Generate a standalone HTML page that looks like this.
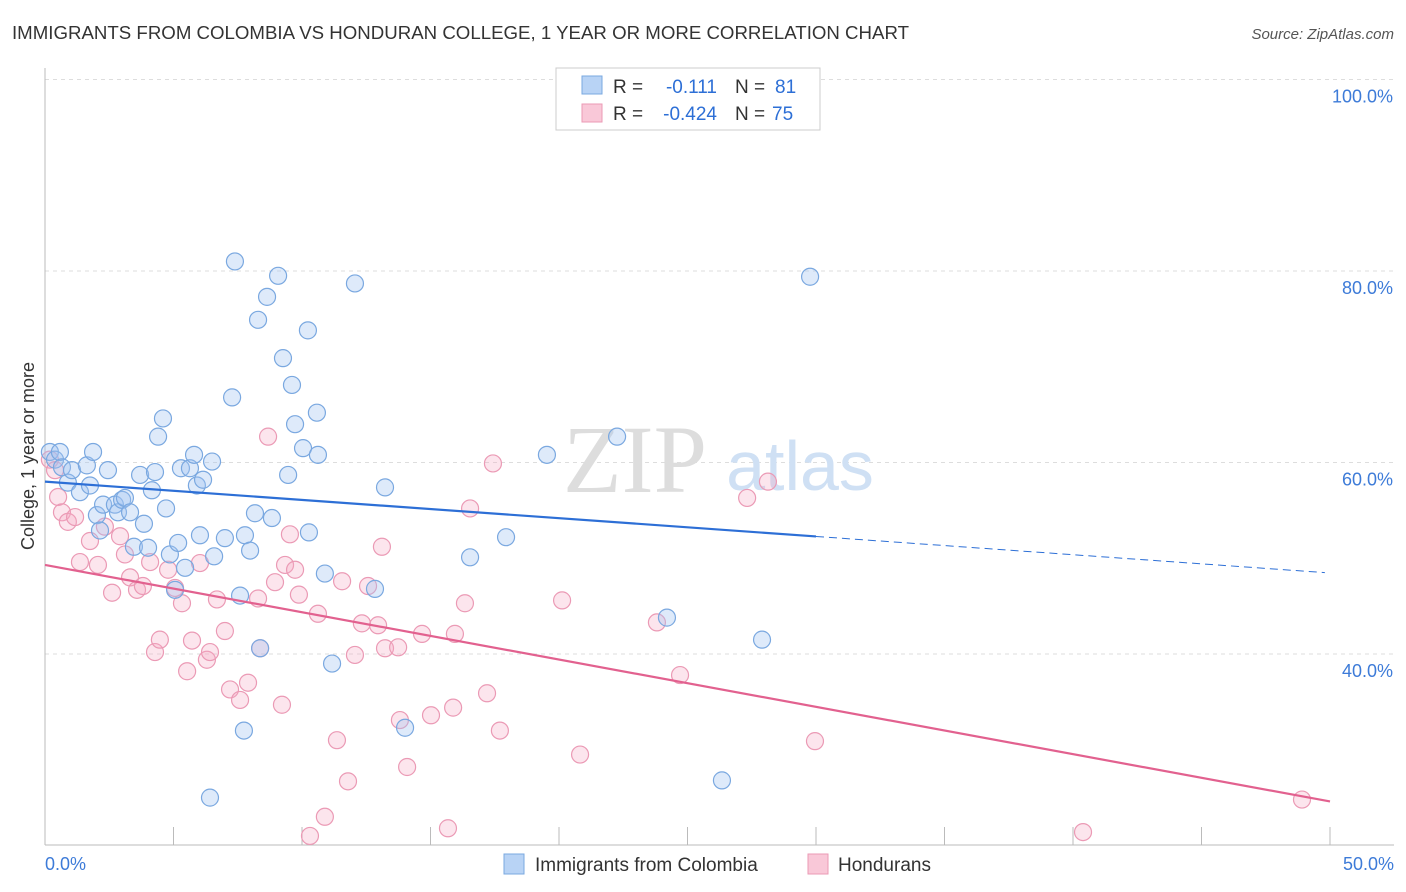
<!DOCTYPE html>
<html><head><meta charset="utf-8">
<style>
body{margin:0;background:#fff;font-family:"Liberation Sans",sans-serif;}
#wrap{position:relative;width:1406px;height:892px;overflow:hidden;}
</style></head>
<body>
<div id="wrap">
<svg id="svg" width="1406" height="892" xmlns="http://www.w3.org/2000/svg">
  <text x="12" y="39" font-size="18" fill="#333" textLength="897" lengthAdjust="spacingAndGlyphs">IMMIGRANTS FROM COLOMBIA VS HONDURAN COLLEGE, 1 YEAR OR MORE CORRELATION CHART</text>
  <text x="1394" y="39" font-size="15" fill="#555" font-style="italic" text-anchor="end">Source: ZipAtlas.com</text>
  <text x="34" y="456" font-size="18" fill="#333" text-anchor="middle" transform="rotate(-90 34 456)">College, 1 year or more</text>
  <g id="grid"></g>
  <text x="635" y="492" font-size="96" fill="#ddd" font-family="Liberation Serif,serif" text-anchor="middle">ZIP</text>
  <text x="800" y="490" font-size="70" fill="#cfe0f4" text-anchor="middle">atlas</text>
  <g id="pts"></g>
  <g id="lines"></g>
  <g>
    <rect x="556" y="68" width="264" height="62" fill="#fff" stroke="#ccc"/>
    <rect x="582" y="76" width="20" height="18" fill="#b8d3f5" stroke="#7aa8e0"/>
    <rect x="582" y="104" width="20" height="18" fill="#f9c8d8" stroke="#eb9ab5"/>
    <text x="613" y="93" font-size="19" fill="#333">R =</text>
    <text x="717" y="93" font-size="19" fill="#2d6fd6" text-anchor="end">-0.111</text>
    <text x="735" y="93" font-size="19" fill="#333">N =</text>
    <text x="775" y="93" font-size="19" fill="#2d6fd6">81</text>
    <text x="613" y="120" font-size="19" fill="#333">R =</text>
    <text x="717" y="120" font-size="19" fill="#2d6fd6" text-anchor="end">-0.424</text>
    <text x="735" y="120" font-size="19" fill="#333">N =</text>
    <text x="772" y="120" font-size="19" fill="#2d6fd6">75</text>
  </g>
  <g>
    <rect x="504" y="854" width="20" height="20" fill="#b8d3f5" stroke="#7aa8e0"/>
    <text x="535" y="871" font-size="19" fill="#333">Immigrants from Colombia</text>
    <rect x="808" y="854" width="20" height="20" fill="#f9c8d8" stroke="#eb9ab5"/>
    <text x="838" y="871" font-size="19" fill="#333">Hondurans</text>
  </g>
</svg>
</div>
<script>
const blueX=[0.19,0.39,0.58,0.66,0.89,1.05,1.36,1.63,1.75,1.87,2.02,2.14,2.26,2.45,2.72,2.84,3.0,3.11,3.31,3.46,3.7,3.85,4.01,4.16,4.28,4.4,4.59,4.71,4.86,5.06,5.18,5.29,5.45,5.64,5.8,5.91,6.03,6.15,6.42,6.5,6.58,7.0,7.28,7.39,7.59,7.78,7.98,8.17,8.29,8.37,7.74,8.64,8.83,9.07,9.26,9.61,9.46,9.73,10.04,10.23,10.27,10.58,10.62,10.89,11.17,12.06,12.84,13.23,14.01,16.54,17.94,19.53,22.26,24.2,26.34,27.9,29.77];
const blueY=[61.1,60.3,61.1,59.5,57.9,59.2,56.9,59.7,57.6,61.1,54.5,52.9,55.6,59.2,55.6,54.8,56.1,56.3,54.8,51.2,58.7,53.6,51.1,57.1,59.0,62.7,64.6,55.2,50.4,46.7,51.6,59.4,49.0,59.4,60.8,57.6,52.4,58.2,25.0,60.1,50.2,52.1,66.8,81.0,46.1,52.4,50.8,54.7,74.9,40.6,32.0,77.3,54.2,79.5,70.9,68.1,58.7,64.0,61.5,73.8,52.7,65.2,60.8,48.4,39.0,78.7,46.8,57.4,32.3,50.1,52.2,60.8,62.7,43.8,26.8,41.5,79.4];
const pinkX=[0.19,0.39,0.51,0.66,0.89,1.17,1.36,1.75,2.06,2.33,2.61,2.92,3.11,3.31,3.58,3.81,4.09,4.28,4.47,4.79,5.06,5.33,5.53,5.72,6.03,6.3,6.42,6.69,7.0,7.2,7.59,7.9,8.29,8.37,8.68,8.95,9.22,9.34,9.53,9.73,9.88,10.31,10.62,10.89,11.36,11.56,11.79,12.06,12.33,12.57,12.96,13.11,13.23,13.74,13.81,14.09,14.67,15.02,15.68,15.88,15.95,16.34,16.54,17.2,17.43,17.7,20.12,20.82,23.81,24.71,27.32,28.13,29.96,40.39,48.91];
const pinkY=[60.3,59.2,56.4,54.8,53.8,54.3,49.6,51.8,49.3,53.3,46.4,52.3,50.4,48.0,46.7,47.1,49.6,40.2,41.5,48.8,46.9,45.3,38.2,41.4,49.5,39.4,40.2,45.7,42.4,36.3,35.2,37.0,45.8,40.6,62.7,47.5,34.7,49.3,52.5,48.8,46.2,21.0,44.2,23.0,31.0,47.6,26.7,39.9,43.2,47.1,43.0,51.2,40.6,40.7,33.1,28.2,42.1,33.6,21.8,34.4,42.1,45.3,55.2,35.9,59.9,32.0,45.6,29.5,43.3,37.8,56.3,58.0,30.9,21.4,24.8];
const blueTrend=[58.0,48.5];
const pinkTrend=[49.3,24.6];
const yTicks=[100,80,60,40];
const yTickLabels=["100.0%","80.0%","60.0%","40.0%"];
const NS="http://www.w3.org/2000/svg";
const sx=v=>45+v*25.7;
const sy=v=>1037-v*9.575;
function mk(tag,attrs,parent){const e=document.createElementNS(NS,tag);for(const k in attrs)e.setAttribute(k,attrs[k]);parent.appendChild(e);return e;}
const grid=document.getElementById('grid');
yTicks.forEach((t,i)=>{
  const l=mk('line',{x1:45,x2:1394,y1:sy(t),y2:sy(t),stroke:'#ddd','stroke-dasharray':'4,4'},grid);
  
  
  const tx=mk('text',{x:1393,y:sy(t)+23,'font-size':18,fill:'#3d7bd8','text-anchor':'end'},grid);
  tx.textContent=yTickLabels[i];
  
  
});
const ax=mk('line',{x1:45,x2:1394,y1:845,y2:845,stroke:'#bbb'},grid);


const yax=mk('line',{x1:45,x2:45,y1:68,y2:845,stroke:'#bbb'},grid);


for(let i=1;i<=10;i++){const x=45+i*128.5;const tk=mk('line',{x1:x,x2:x,y1:827,y2:845,stroke:'#bbb'},grid);

}
const xl0=mk('text',{x:45,y:870,'font-size':18,fill:'#3d7bd8'},grid);xl0.textContent='0.0%';


const xl1=mk('text',{x:1394,y:870,'font-size':18,fill:'#3d7bd8','text-anchor':'end'},grid);xl1.textContent='50.0%';


const pts=document.getElementById('pts');
pinkX.forEach((x,i)=>{const c=mk('circle',{cx:sx(x),cy:sy(pinkY[i]),r:8.5,fill:'rgba(244,170,195,0.3)',stroke:'#eb9ab5','stroke-width':1.2},pts);

});
blueX.forEach((x,i)=>{const c=mk('circle',{cx:sx(x),cy:sy(blueY[i]),r:8.5,fill:'rgba(160,196,240,0.35)',stroke:'#7aa8e0','stroke-width':1.2},pts);

});
const lines=document.getElementById('lines');
const bAt=x=>blueTrend[0]+(blueTrend[1]-blueTrend[0])*x/49.8;
const bl=mk('line',{x1:sx(0),y1:sy(bAt(0)),x2:sx(30),y2:sy(bAt(30)),stroke:'#2d6fd6','stroke-width':2.2},lines);


const bd=mk('line',{x1:sx(30),y1:sy(bAt(30)),x2:sx(49.8),y2:sy(bAt(49.8)),stroke:'#2d6fd6','stroke-width':1,'stroke-dasharray':'8,5'},lines);


const pl=mk('line',{x1:sx(0),y1:sy(pinkTrend[0]),x2:sx(50),y2:sy(pinkTrend[1]),stroke:'#e2618f','stroke-width':2.2},lines);


</script>
</body></html>
